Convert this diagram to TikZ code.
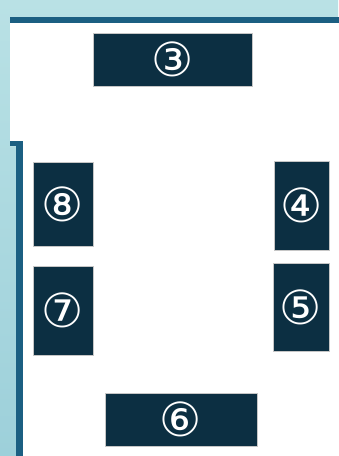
\documentclass[tikz,border=0pt]{standalone}
\usepackage{fontspec}
\newfontfamily\symfont{DejaVu Sans}
\definecolor{wallblue}{HTML}{1B5F82}
\definecolor{skytop}{HTML}{B9E1E5}
\definecolor{skybottom}{HTML}{9DD0DA}
\definecolor{deskblue}{HTML}{0C2F42}

\begin{document}
\begin{tikzpicture}[x=1pt,y=-1pt,
  desk/.style={rectangle,fill=deskblue,draw=gray!45,line width=0.3pt,inner sep=0pt,
    text=white,font=\symfont\fontsize{47}{47}\selectfont}]
  \useasboundingbox (0,0) rectangle (338,456);
  % room outline
  \shade[top color=skytop,bottom color=skybottom] (0,0) rectangle (338,456);
  \fill[white] (10,23) -- (342,23) -- (342,460) -- (23,460) -- (23,146) -- (10,146) -- cycle;
  \fill[wallblue] (10,17) rectangle (342,23);
  \fill[wallblue] (10,141) rectangle (23,146);
  \fill[wallblue] (16,141) rectangle (23,460);
  % desks
  \node[desk,minimum width=159pt,minimum height=53pt] (d3) at (172.5,59.5) {③};
  \node[desk,minimum width=55pt,minimum height=89pt] (d4) at (301.5,205.5) {④};
  \node[desk,minimum width=56pt,minimum height=88pt] (d5) at (301,307) {⑤};
  \node[desk,minimum width=152pt,minimum height=53pt] (d6) at (181,419.5) {⑥};
  \node[desk,minimum width=60pt,minimum height=89pt] (d7) at (63,310.5) {⑦};
  \node[desk,minimum width=60pt,minimum height=84pt] (d8) at (63,204) {⑧};
\end{tikzpicture}
\end{document}
